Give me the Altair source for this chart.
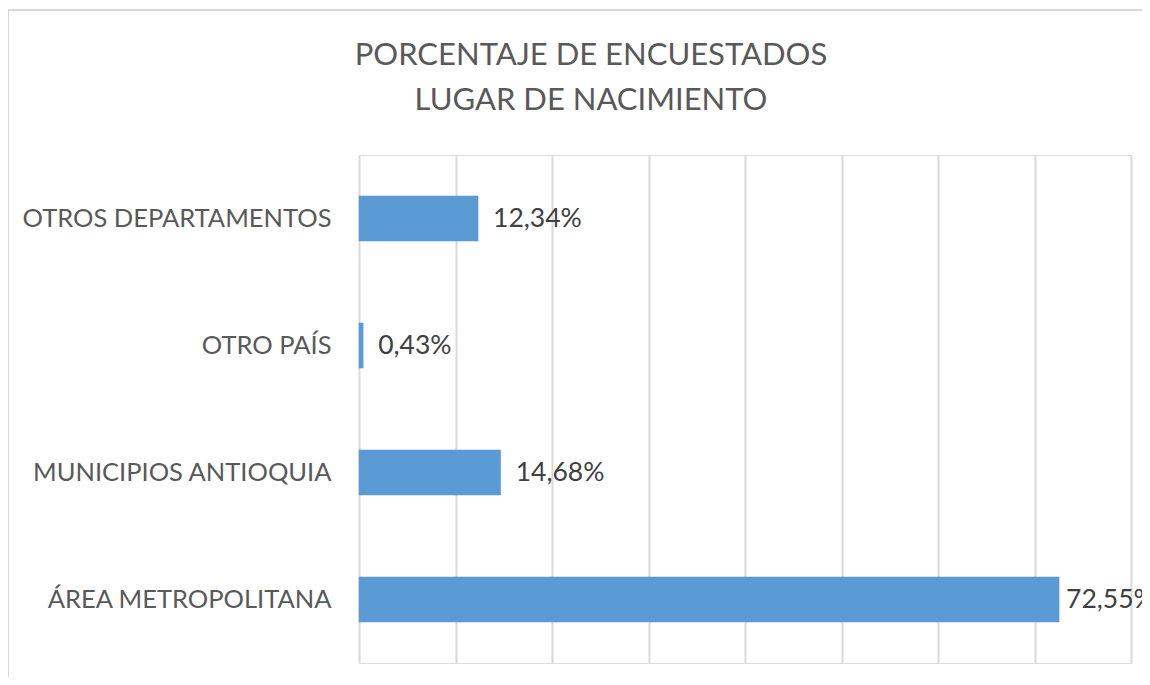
import altair as alt
import pandas as pd

categories = ["OTROS DEPARTAMENTOS", "OTRO PAÍS", "MUNICIPIOS ANTIOQUIA", "ÁREA METROPOLITANA"]
values = [12.34, 0.43, 14.68, 72.55]
labels = ["12,34%", "0,43%", "14,68%", "72,55%"]
title_lines = ["PORCENTAJE DE ENCUESTADOS", "LUGAR DE NACIMIENTO"]

df = pd.DataFrame({"cat": categories, "val": values, "lab": labels})

FONT = "Lato"
GREY = "#595959"

yenc = alt.Y("cat:N", sort=categories, title=None,
             scale=alt.Scale(paddingInner=0.645, paddingOuter=0.3225),
             axis=alt.Axis(domain=False, ticks=False, labelFontSize=25.5, labelColor=GREY,
                           labelFont=FONT, labelPadding=28, labelLimit=400))
xenc = alt.X("val:Q", title=None, scale=alt.Scale(domain=[0, 80], nice=False),
             axis=alt.Axis(values=list(range(0, 90, 10)), labels=False, ticks=False, domain=False,
                           grid=True, gridColor="#D9D9D9", gridWidth=2))

bars = alt.Chart(df).mark_bar(color="#5B9BD5", stroke="#5B9BD5", strokeWidth=0.5).encode(x=xenc, y=yenc)


def value_labels(dx, keep):
    return alt.Chart(df).transform_filter(keep).mark_text(
        align="left", baseline="middle", dx=dx, fontSize=26.5, font=FONT, color="#404040"
    ).encode(x="val:Q", y=alt.Y("cat:N", sort=categories), text="lab:N")


text_small = value_labels(15, "datum.val < 50")
text_big = value_labels(7, "datum.val >= 50")

border = alt.Chart(alt.Data(values=[{}])).mark_rect(fill=None, stroke="#D9D9D9", strokeWidth=2).encode(
    x=alt.value(-351), x2=alt.value(1200), y=alt.value(-145), y2=alt.value(800))


def title_line(line, baseline_y):
    return alt.Chart(alt.Data(values=[{"t": line}])).mark_text(
        align="center", baseline="alphabetic", fontSize=31, font=FONT, color=GREY
    ).encode(x=alt.value(232), y=alt.value(baseline_y), text="t:N")


title1 = title_line(title_lines[0], -90)
title2 = title_line(title_lines[1], -45)

chart = alt.layer(border, bars, text_small, text_big, title1, title2).properties(
    width=772, height=508,
    autosize=alt.AutoSizeParams(type="none"),
    padding={"left": 351, "top": 147, "right": 11, "bottom": 14},
).configure_view(stroke=None).configure(background="white")

chart.save("out.html", embed_options={"renderer": "svg", "actions": False})
